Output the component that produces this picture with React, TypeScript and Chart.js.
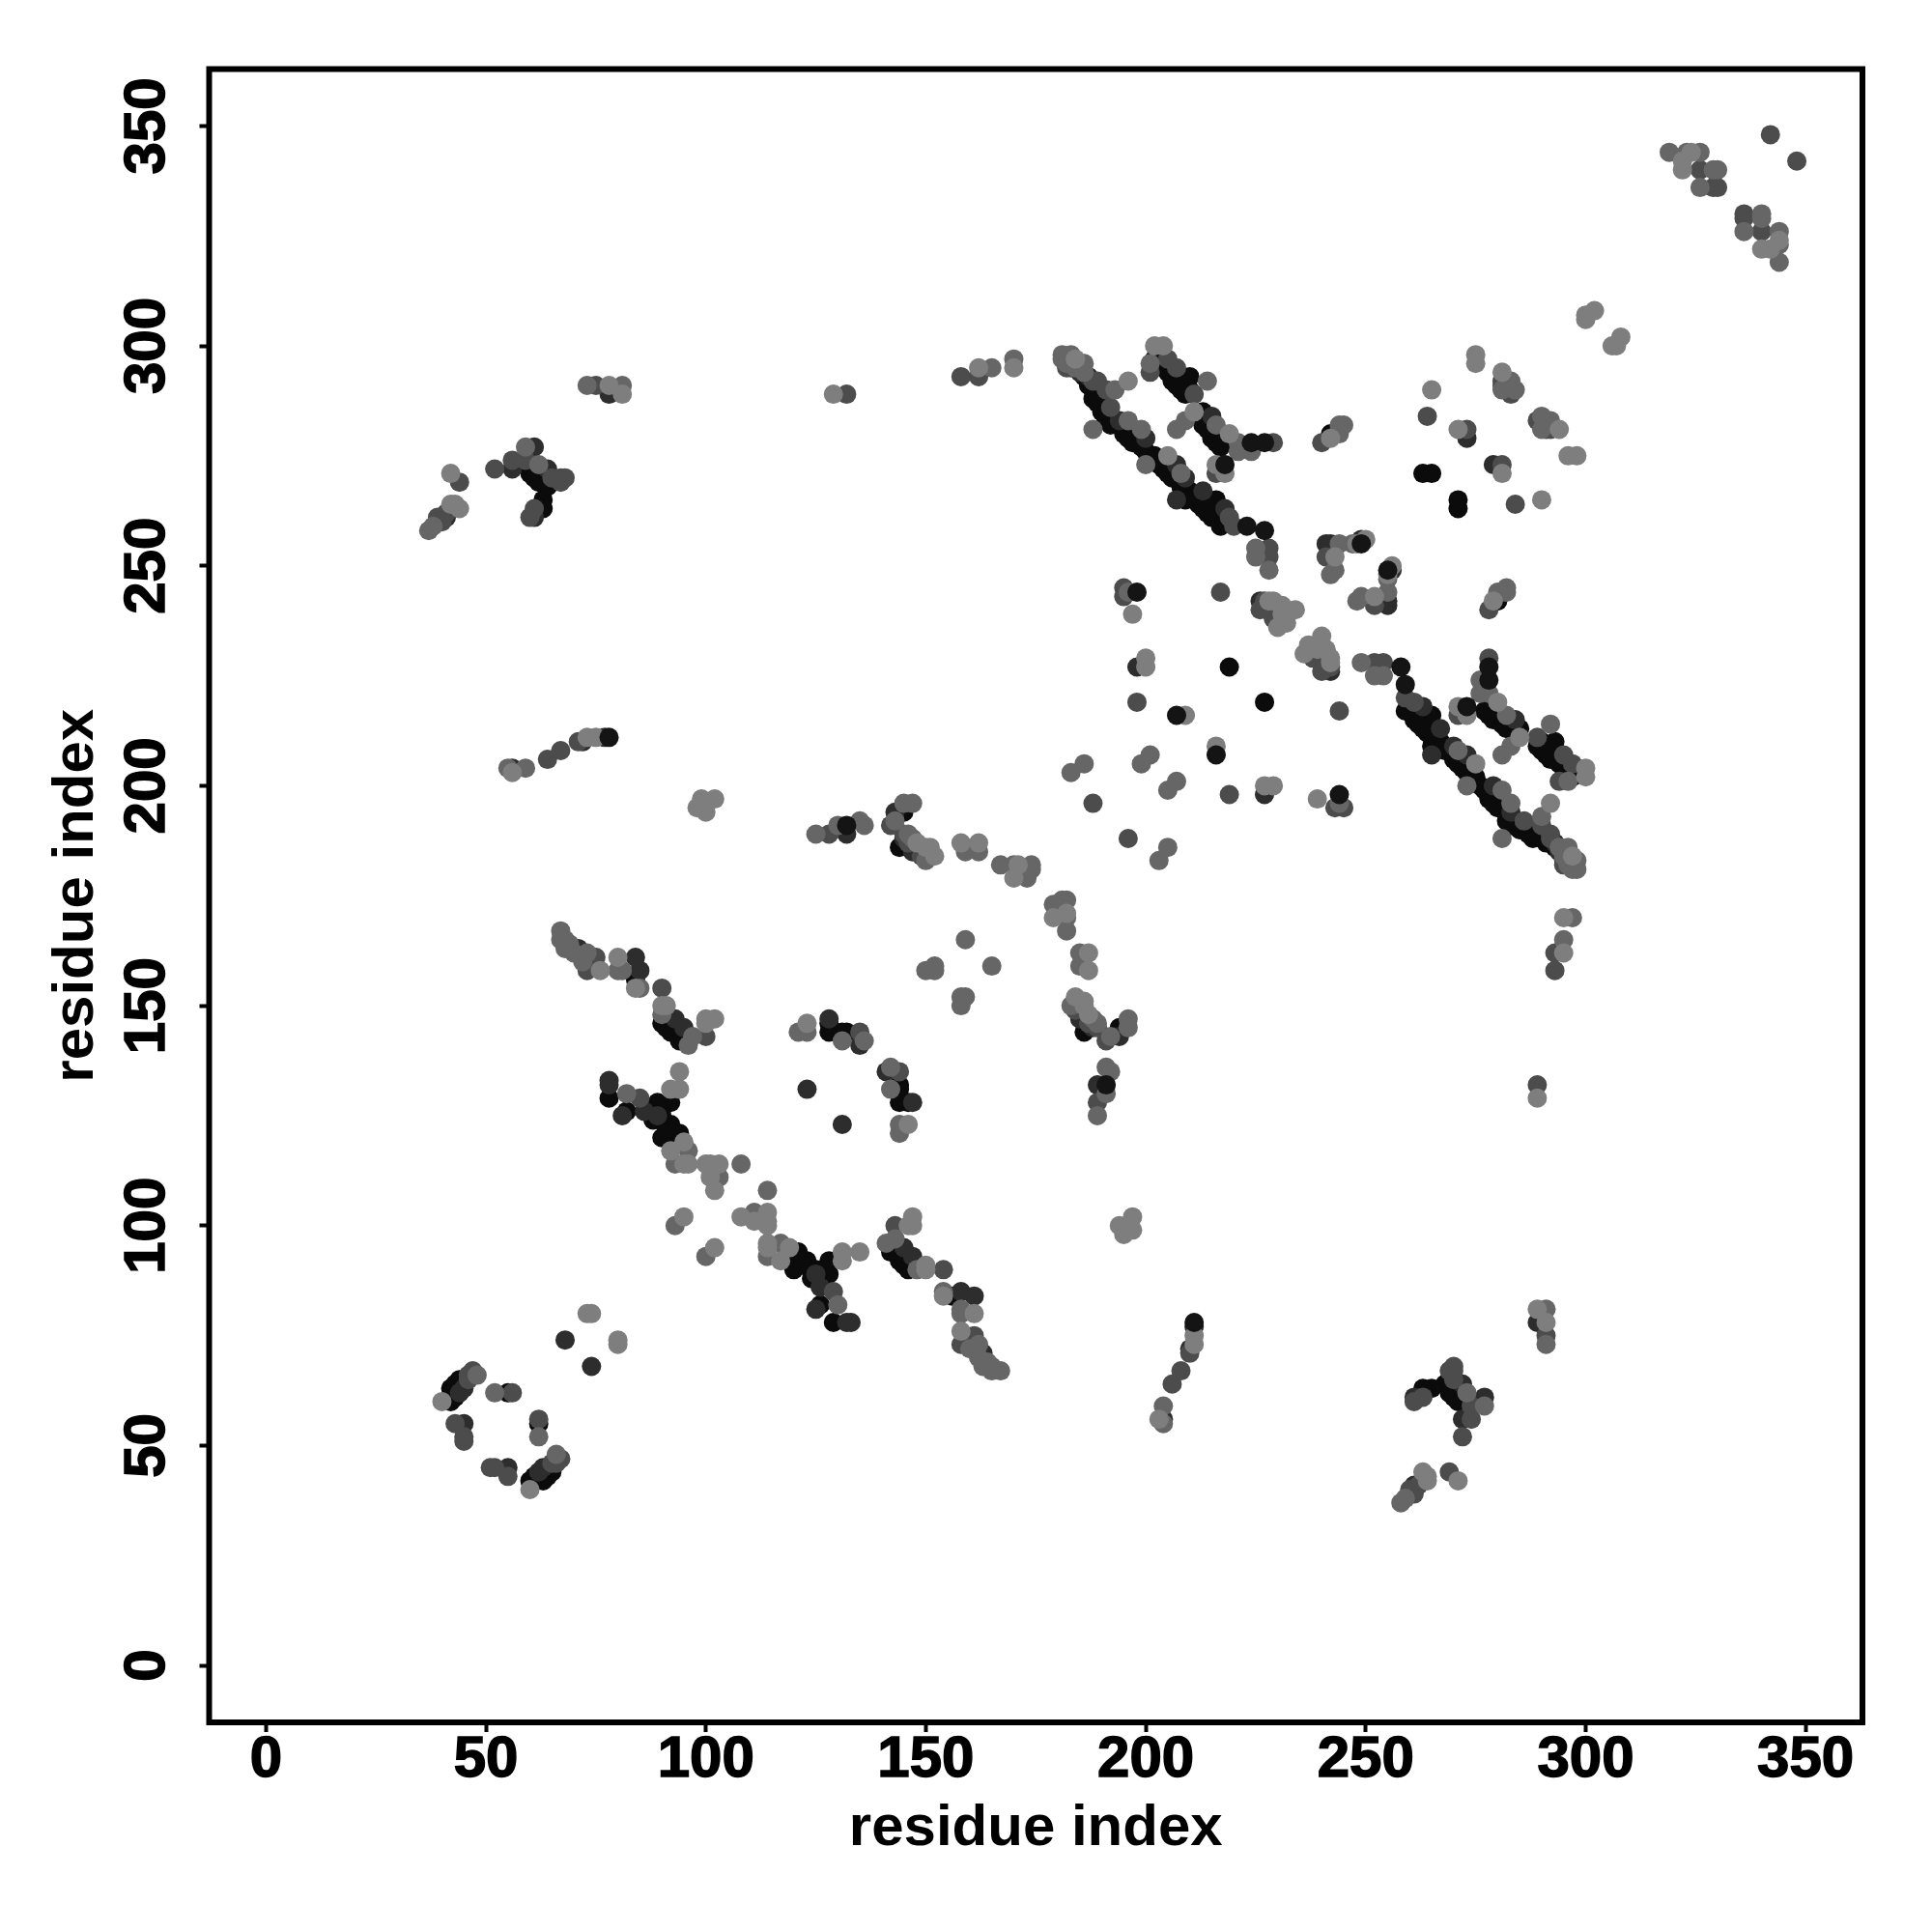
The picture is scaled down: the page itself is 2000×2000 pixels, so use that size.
import React, { useEffect, useRef } from "react";
import { Chart, registerables } from "chart.js";

Chart.register(...registerables);

// Residue contacts [i, j], i < j, by grey level. The map is symmetric, each contact shows at (i,j) and (j,i).
const contactsBlack = [[42,60],[42,61],[42,63],[44,65],[43,62],[43,64],[43,61],[44,63],[45,64],[78,129],[82,126],[89,128],[92,128],[88,124],[92,123],[94,121],[90,120],[93,119],[91,122],[90,125],[84,156],[92,147],[90,146],[92,144],[94,142],[91,145],[128,146],[128,144],[132,144],[131,144],[62,269],[64,268],[63,265],[63,263],[60,271],[61,270],[145,194],[144,186],[145,187],[219,227],[263,271],[265,271],[186,293],[187,291],[188,288],[188,290],[189,287],[190,285],[191,283],[192,282],[195,280],[196,279],[197,278],[199,277],[200,276],[202,275],[203,273],[204,272],[205,271],[206,270],[208,268],[209,265],[210,267],[212,264],[211,266],[213,263],[216,265],[214,262],[215,261],[217,259],[202,297],[203,296],[204,295],[205,294],[206,292],[207,291],[208,290],[209,289],[210,293],[210,290],[213,285],[213,282],[213,284],[214,281],[215,279],[216,278],[217,277],[242,280],[55,62],[283,290]];
const contactsDark = [[44,62],[45,63],[41,261],[78,133],[78,132],[81,125],[86,126],[89,125],[93,147],[95,145],[128,147],[135,141],[123,131],[68,74],[45,55],[84,161],[85,158],[71,163],[61,261],[61,277],[56,272],[64,272],[77,211],[72,210],[56,204],[132,189],[143,194],[145,188],[147,185],[78,289],[198,227],[185,294],[187,293],[194,283],[200,279],[207,273],[209,270],[207,265],[213,267],[218,263],[215,284],[273,279],[226,242],[228,240],[241,255],[242,255],[249,256]];
const contactsMid = [[47,67],[46,65],[46,66],[43,55],[45,52],[45,51],[56,62],[73,158],[90,154],[85,129],[100,143],[135,144],[132,289],[75,291],[44,269],[40,260],[39,261],[41,262],[52,272],[56,274],[59,274],[65,270],[67,270],[67,269],[68,270],[61,263],[60,261],[64,206],[67,208],[71,210],[128,189],[142,191],[145,189],[146,187],[149,184],[158,293],[162,293],[188,196],[217,244],[198,219],[195,245],[195,243],[182,295],[183,295],[183,296],[188,292],[189,292],[191,290],[192,286],[205,297],[207,295],[201,294],[211,289],[216,271],[219,261],[220,259],[228,254],[228,252],[229,278],[240,278],[244,281],[273,281],[264,284],[326,340],[329,336],[330,336],[342,348],[281,291],[283,289],[281,292],[229,238],[226,240],[227,242],[241,252],[75,161]];
const contactsGrey = [[48,66],[52,62],[67,167],[67,165],[68,165],[69,164],[70,162],[72,160],[73,162],[68,163],[81,158],[80,158],[85,154],[90,148],[97,143],[96,141],[82,130],[96,117],[93,114],[103,111],[93,100],[108,114],[121,144],[123,144],[131,142],[136,142],[150,158],[152,158],[152,159],[159,165],[73,291],[81,291],[165,295],[170,297],[59,277],[62,273],[37,258],[38,259],[55,204],[59,204],[125,189],[130,191],[135,192],[136,191],[145,196],[147,196],[143,192],[146,189],[147,188],[150,183],[159,185],[162,185],[167,182],[170,182],[173,179],[174,182],[174,181],[183,203],[186,205],[199,205],[201,207],[181,298],[183,298],[181,297],[182,297],[182,296],[184,295],[185,295],[186,294],[186,296],[193,290],[188,281],[196,283],[199,281],[200,273],[208,271],[201,296],[209,283],[207,281],[216,282],[221,278],[224,276],[221,276],[225,254],[225,252],[228,249],[214,292],[244,282],[244,280],[245,282],[244,255],[242,248],[243,249],[247,255],[323,344],[319,344],[326,344],[329,340],[330,340],[326,336],[281,290],[284,290],[283,292],[196,244]];
const contactsLight = [[40,60],[73,80],[74,80],[42,271],[42,264],[43,264],[44,263],[76,158],[80,161],[84,154],[90,150],[91,150],[100,146],[100,147],[102,147],[94,135],[92,131],[94,131],[95,119],[96,114],[95,114],[92,117],[100,114],[101,114],[103,114],[101,111],[102,108],[95,102],[123,146],[78,291],[81,289],[129,289],[162,295],[170,295],[98,195],[100,194],[99,197],[102,197],[100,196],[73,211],[75,211],[56,203],[148,187],[150,186],[151,186],[152,184],[158,187],[162,187],[170,179],[171,182],[209,216],[197,239],[200,229],[200,227],[202,300],[204,300],[184,297],[196,292],[205,275],[211,285],[219,280],[216,273],[218,271],[242,279],[265,290],[275,298],[275,296],[281,294],[271,281],[248,255],[250,256],[243,252],[300,306],[300,307],[302,308],[229,242],[231,241],[231,239],[232,240],[234,240],[230,236],[232,237],[324,344],[322,340],[322,342],[228,242]];
// Dark contacts that lie over the lighter ones in the picture.
const contactsOnTop = [[223,259],[227,258],[224,278],[227,278],[218,273],[198,244],[207,216],[78,211],[132,191],[249,255]];

const tickValues = [0, 50, 100, 150, 200, 250, 300, 350];
const axisTitle = "residue index";

const toPoints = (pairs: number[][]) =>
  pairs.flatMap(([i, j]) => [{ x: i, y: j }, { x: j, y: i }]);

// Chart.js paints the first dataset last, so the top layer is listed first.
const layers: [number[][], string][] = [
  [contactsOnTop, "#141414"],
  [contactsLight, "#7e7e7e"],
  [contactsGrey, "#666666"],
  [contactsMid, "#4c4c4c"],
  [contactsDark, "#2d2d2d"],
  [contactsBlack, "#0b0b0b"],
];

const FONT = "'Liberation Sans', Arial, sans-serif";

const framePlugin = {
  id: "frame",
  afterDraw(chart: any) {
    const { ctx, chartArea: a } = chart;
    ctx.save();
    ctx.strokeStyle = "#000";
    ctx.lineWidth = 6;
    ctx.strokeRect(a.left, a.top, a.right - a.left, a.bottom - a.top);
    ctx.restore();
  },
};

const axis = (isX: boolean) => ({
  type: "linear" as const,
  min: -12.92,
  max: 362.92,
  afterBuildTicks(scale: any) {
    scale.ticks = tickValues.map((value) => ({ value }));
  },
  afterFit(scale: any) {
    if (isX) scale.height = 217;
    else scale.width = 216.5;
  },
  grid: {
    drawOnChartArea: false,
    drawTicks: true,
    tickLength: 10,
    tickWidth: 4,
    tickColor: "#000",
  },
  border: { display: false },
  ticks: {
    autoSkip: false,
    includeBounds: false,
    color: "#000",
    textStrokeColor: "#000",
    textStrokeWidth: 1.5,
    font: { family: FONT, size: 60, weight: "bold" as const },
    padding: isX ? -7 : 3,
    ...(isX
      ? { maxRotation: 0, minRotation: 0 }
      : { minRotation: 90, maxRotation: 90, crossAlign: "center" as const }),
  },
  title: {
    display: true,
    text: axisTitle,
    color: "#000",
    font: { family: FONT, size: 60, weight: "bold" as const },
    padding: isX ? { top: 0, bottom: 71 } : { top: 43, bottom: 0 },
  },
});

export default function App() {
  const ref = useRef<HTMLCanvasElement>(null);
  useEffect(() => {
    document.body.style.margin = "0";
    const chart = new Chart(ref.current!, {
      type: "scatter",
      data: {
        datasets: layers.map(([pairs, color]) => ({
          data: toPoints(pairs),
          backgroundColor: color,
          borderWidth: 0,
          pointRadius: 10,
          pointBorderWidth: 0,
        })),
      },
      options: {
        animation: false,
        responsive: false,
        devicePixelRatio: 1,
        layout: { padding: { top: 71.5, right: 72, left: 0, bottom: 0 } },
        plugins: { legend: { display: false }, tooltip: { enabled: false } },
        scales: { x: axis(true), y: axis(false) },
      },
      plugins: [framePlugin],
    } as any);
    return () => chart.destroy();
  }, []);
  return (
    <div style={{ width: 2000, height: 2000, background: "#fff" }}>
      <canvas ref={ref} width={2000} height={2000} style={{ display: "block" }} />
    </div>
  );
}
